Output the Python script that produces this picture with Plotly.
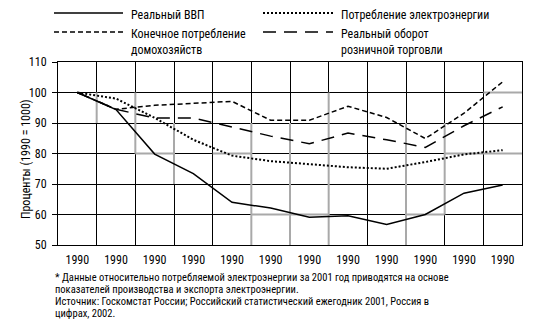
import plotly.graph_objects as go

# ---- data -------------------------------------------------------------
years = list(range(1990, 2002))
tick_labels = ["1990"] * 12

gdp = [100, 94.4, 79.8, 73.4, 64.0, 62.1, 59.1, 59.6, 56.7, 60.0, 67.0, 69.7]
electricity = [100, 98.0, 91.7, 84.5, 79.3, 77.5, 76.5, 75.5, 75.0, 77.2, 79.7, 81.1]
household = [100, 94.5, 95.8, 96.5, 97.1, 90.9, 90.9, 95.5, 91.8, 84.9, 93.2, 103.5]
retail = [100, 94.5, 91.6, 91.6, 88.7, 85.7, 83.2, 86.7, 84.5, 82.0, 89.1, 95.3]

series_names = [
    "Реальный ВВП",
    "Потребление электроэнергии",
    "Конечное потребление<br>домохозяйств",
    "Реальный оборот<br>розничной торговли",
]
series_values = [gdp, electricity, household, retail]
series_dash = ["solid", "2px,2px", "5px,3px", "13px,8px"]
series_width = [1.5, 2, 1.5, 1.5]

# grey grid segments (category boundary index, value range)
grey_vertical = [(1, 90, 100), (2, 80, 100), (3, 70, 90), (5, 50, 90), (6, 50, 90),
                 (7, 50, 100), (9, 50, 90), (10, 60, 90)]
grey_horizontal = [(80, 2, 3), (80, 4, 5), (60, 5, 7), (60, 9, 10), (80, 10, 12), (100, 11, 12)]

footnote = [
    "* Данные относительно потребляемой электроэнергии за 2001 год приводятся на основе",
    "показателей производства и экспорта электроэнергии.",
    "Источник: Госкомстат России; Российский статистический ежегодник 2001, Россия в",
    "цифрах, 2002.",
]
y_title = "Проценты (1990 = 1000)"

# ---- layout geometry --------------------------------------------------
W, H = 555, 333
L, R, T, B = 58, 522, 62, 245
FONT = "Liberation Sans Narrow, Arial Narrow, Roboto Condensed, DejaVu Sans Condensed, sans-serif"


def px_x(px):
    return (px - L) / (R - L)


def px_y(py):
    return (B - py) / (B - T)


xs = list(range(len(years)))
fig = go.Figure()

for name, vals, dash, w in zip(series_names, series_values, series_dash, series_width):
    fig.add_trace(go.Scatter(
        x=xs, y=vals, mode="lines", name=name, showlegend=False,
        line=dict(color="black", width=w, dash=dash),
    ))

shapes = []
for b, y0, y1 in grey_vertical:
    shapes.append(dict(type="line", xref="x", yref="y", x0=b - 0.5, x1=b - 0.5, y0=y0, y1=y1,
                       line=dict(color="#a9a9a9", width=2), layer="between"))
for yv, b0, b1 in grey_horizontal:
    shapes.append(dict(type="line", xref="x", yref="y", x0=b0 - 0.5, x1=b1 - 0.5, y0=yv, y1=yv,
                       line=dict(color="#a9a9a9", width=2), layer="between"))

# legend drawn as two columns above the plot
annotations = []
legend_slots = [(54, 123, 13), (263, 333, 13), (54, 123, 32), (263, 333, 32)]
for (x0, x1, yy), name, dash, w in zip(legend_slots, series_names, series_dash, series_width):
    shapes.append(dict(type="line", xref="paper", yref="paper",
                       x0=px_x(x0), x1=px_x(x1), y0=px_y(yy), y1=px_y(yy),
                       line=dict(color="black", width=w, dash=dash)))
    annotations.append(dict(text=name, xref="paper", yref="paper", x=px_x(x1 + 6), y=px_y(yy - 7),
                            xanchor="left", yanchor="top", showarrow=False, align="left",
                            font=dict(family=FONT, size=12, color="black")))

for i, line in enumerate(footnote):
    annotations.append(dict(text=line, xref="paper", yref="paper", x=px_x(54), y=px_y(277 + 12.3 * i),
                            xanchor="left", yanchor="middle", showarrow=False, borderpad=0,
                            font=dict(family=FONT, size=10.5, color="black")))

annotations.append(dict(text=y_title, xref="paper", yref="paper", x=px_x(26), y=px_y(159),
                        xanchor="center", yanchor="middle", textangle=-90, showarrow=False,
                        font=dict(family=FONT, size=12, color="black")))

fig.update_layout(
    width=W, height=H,
    margin=dict(l=L, r=W - R, t=T, b=H - B, pad=0),
    paper_bgcolor="white", plot_bgcolor="white",
    font=dict(family=FONT, size=12, color="black"),
    shapes=shapes, annotations=annotations,
    xaxis=dict(
        range=[-0.5, len(years) - 0.5], tickmode="array", tickvals=xs, ticktext=tick_labels,
        showgrid=False, ticks="", ticklabelstandoff=4,
        minor=dict(tickmode="array", tickvals=[b - 0.5 for b in range(len(years) + 1)],
                   showgrid=True, gridcolor="black", gridwidth=1, ticks=""),
        showline=True, linecolor="black", linewidth=1, mirror=True, zeroline=False,
        tickfont=dict(family=FONT, size=12),
    ),
    yaxis=dict(
        range=[50, 110], dtick=10, tick0=50, showgrid=True, gridcolor="black", gridwidth=1,
        ticks="outside", ticklen=5, tickcolor="black", ticklabelstandoff=3,
        showline=True, linecolor="black", linewidth=1, mirror=True, zeroline=False,
        tickfont=dict(family=FONT, size=12),
    ),
)

fig.write_html("out.html")
